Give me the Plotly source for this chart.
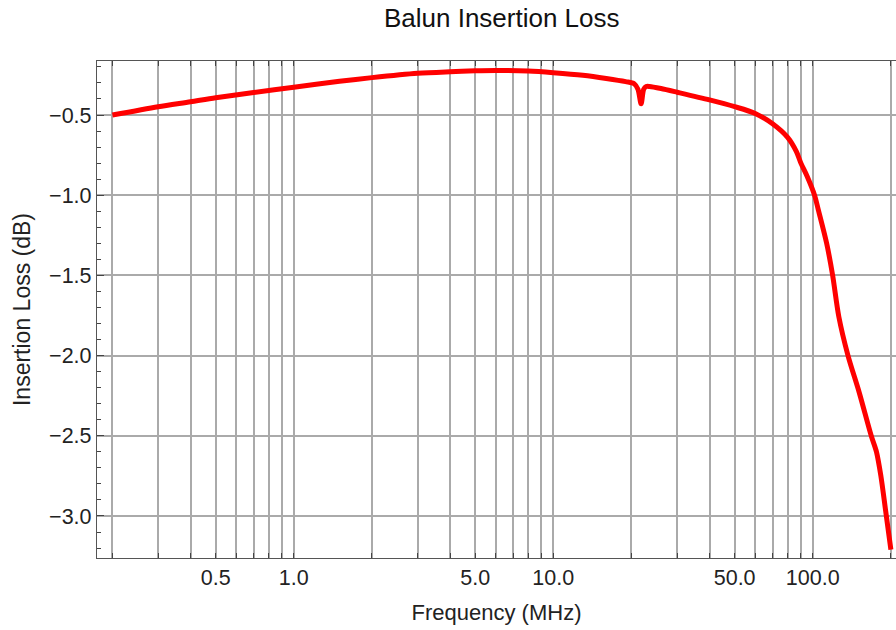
import math
import plotly.graph_objects as go

# Data
freq_mhz = [0.2, 0.3, 0.4, 0.5, 0.7, 1.0, 1.5, 2.0, 3.0, 4.0, 5.0, 6.0, 8.0, 10.0,
            13.0, 16.0, 19.0, 20.5, 21.2, 21.8, 22.3, 22.8, 23.5, 26.0, 30.0, 40.0,
            50.0, 60.0, 70.0, 80.0, 86.5, 90.0, 95.0, 101.6, 105.0, 113.1, 119.3,
            126.0, 136.7, 151.0, 168.0, 176.0, 183.0, 191.0, 200.0]
loss_db = [-0.50, -0.448, -0.417, -0.392, -0.36, -0.327, -0.29, -0.267, -0.24, -0.23,
           -0.224, -0.222, -0.226, -0.236, -0.252, -0.272, -0.292, -0.305, -0.34, -0.43,
           -0.34, -0.322, -0.322, -0.335, -0.358, -0.406, -0.448, -0.49, -0.555, -0.64,
           -0.729, -0.80, -0.88, -1.0, -1.09, -1.30, -1.50, -1.757, -2.0, -2.23, -2.50,
           -2.60, -2.75, -2.97, -3.21]

x_grid_vals = [0.2, 0.3, 0.4, 0.5, 0.6, 0.7, 0.8, 0.9, 1, 2, 3, 4, 5, 6, 7, 8, 9,
               10, 20, 30, 40, 50, 60, 70, 80, 90, 100, 200]
x_labels = {0.5: "0.5", 1: "1.0", 5: "5.0", 10: "10.0", 50: "50.0", 100: "100.0"}
y_tick_vals = [-3.0, -2.5, -2.0, -1.5, -1.0, -0.5]
y_tick_text = ["\u22123.0", "\u22122.5", "\u22122.0", "\u22121.5", "\u22121.0", "\u22120.5"]

FONT = "Liberation Sans, Arial, sans-serif"

fig = go.Figure()
fig.add_trace(go.Scatter(
    x=freq_mhz, y=loss_db, mode="lines",
    line=dict(color="#ff0000", width=5, shape="spline", smoothing=0.8),
    showlegend=False,
))

fig.update_layout(
    width=896, height=630,
    margin=dict(l=97, r=0, t=61, b=72),
    paper_bgcolor="white", plot_bgcolor="white",
    font=dict(family=FONT, color="#222222"),
    title=dict(text="Balun Insertion Loss", x=0.56, xref="container", xanchor="center",
               y=0.971, yref="container", yanchor="middle",
               font=dict(size=26, color="#111111", family=FONT)),
)

fig.update_xaxes(
    type="log",
    range=[math.log10(0.1744), math.log10(209.3)],
    tickmode="array",
    tickvals=x_grid_vals,
    ticktext=[x_labels.get(v, "") for v in x_grid_vals],
    ticks="inside", ticklen=5, tickwidth=1, tickcolor="#444444",
    showgrid=True, gridcolor="#aaaaaa", gridwidth=1.5,
    showline=True, linecolor="#555555", linewidth=1.3, mirror="ticks",
    zeroline=False, automargin=False,
    tickfont=dict(size=21.5, family=FONT, color="#222222"),
    title=dict(text="Frequency (MHz)", font=dict(size=22, family=FONT, color="#222222"),
               standoff=15),
)

fig.update_yaxes(
    range=[-3.262, -0.1633],
    tickmode="array",
    tickvals=y_tick_vals,
    ticktext=y_tick_text,
    ticks="inside", ticklen=7, tickwidth=1, tickcolor="#444444",
    minor=dict(dtick=0.1, tick0=0, ticks="inside", ticklen=4, tickcolor="#444444",
               showgrid=False),
    showgrid=True, gridcolor="#aaaaaa", gridwidth=1.5,
    showline=True, linecolor="#555555", linewidth=1.3, mirror=False,
    zeroline=False, automargin=False,
    tickfont=dict(size=21.5, family=FONT, color="#222222"),
    title=dict(text="Insertion Loss (dB)", font=dict(size=23, family=FONT, color="#222222"),
               standoff=12),
)

fig.write_html(
    "out.html",
    config={"displayModeBar": False},
    post_script="document.body.style.margin='0';"
                "document.documentElement.style.overflow='hidden';"
                "document.body.style.overflow='hidden';",
)
